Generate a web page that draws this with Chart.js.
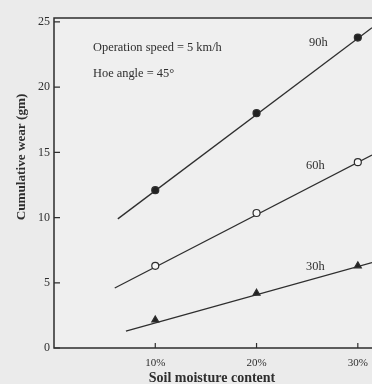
<!DOCTYPE html>
<html><head><meta charset="utf-8">
<script src="https://cdn.jsdelivr.net/npm/chart.js@4"></script>
<style>html,body{margin:0;padding:0;background:#ebebeb;}canvas{display:block;}</style>
</head><body>
<canvas id="c" width="372" height="384"></canvas>
<script>
// ---- data ----
const moisture = [10, 20, 30];            // soil moisture content (%)
const wear90h = [12.1, 18.0, 23.8];       // cumulative wear (gm) after 90 h
const wear60h = [6.3, 10.35, 14.25];      // after 60 h
const wear30h = [2.15, 4.2, 6.3];         // after 30 h
// fitted straight lines drawn through the points (x ends, y ends)
const fitX90h = [6.3, 31.4];  const fitY90h = [9.9, 24.55];
const fitX60h = [6.0, 31.4];  const fitY60h = [4.6, 14.8];
const fitX30h = [7.1, 31.4];  const fitY30h = [1.3, 6.55];
const xTickValues = [10, 20, 30];
const yTickValues = [0, 5, 10, 15, 20, 25];
const seriesNames = ['90h', '60h', '30h'];
const notes = ['Operation speed = 5 km/h', 'Hoe angle = 45\u00B0'];
const xTitle = 'Soil moisture content';
const yTitle = 'Cumulative wear (gm)';

const INK = '#2e2e2e';
const SERIF = '"Liberation Serif", "DejaVu Serif", serif';

const pts = (xs, ys) => xs.map((x, i) => ({x: x, y: ys[i]}));

const lineDs = (xs, ys) => ({
  type: 'line', data: pts(xs, ys), borderColor: INK, borderWidth: 1.3,
  pointRadius: 0, fill: false, tension: 0, order: 2, clip: false
});
const markDs = (ys, style, bg) => ({
  type: 'scatter', data: pts(moisture, ys), pointStyle: style,
  pointRadius: style === 'triangle' ? 4 : 3.5, pointBackgroundColor: bg,
  pointBorderColor: INK, pointBorderWidth: 1.2, showLine: false, order: 1, clip: false
});

const decor = {
  id: 'decor',
  beforeDraw(chart) {
    const c = chart.ctx;
    c.save();
    c.fillStyle = '#ebebeb';
    c.fillRect(0, 0, chart.width, chart.height);
    const a = chart.chartArea;
    c.fillStyle = '#efefef';
    c.fillRect(a.left, a.top, a.right - a.left, a.bottom - a.top);
    c.restore();
  },
  afterDraw(chart) {
    const c = chart.ctx, a = chart.chartArea;
    const xs = chart.scales.x, ys = chart.scales.y;
    c.save();
    c.strokeStyle = INK; c.lineWidth = 1.5;
    c.beginPath();
    c.moveTo(a.right, a.top); c.lineTo(a.left, a.top);
    c.lineTo(a.left, a.bottom); c.lineTo(a.right, a.bottom);
    c.stroke();
    c.lineWidth = 1.2;
    c.beginPath();
    yTickValues.forEach(v => { const p = ys.getPixelForValue(v); c.moveTo(a.left, p); c.lineTo(a.left + 6, p); });
    xTickValues.forEach(v => { const p = xs.getPixelForValue(v); c.moveTo(p, a.bottom); c.lineTo(p, a.bottom - 5); });
    c.stroke();
    // text annotations
    c.fillStyle = INK;
    c.font = '12.4px ' + SERIF;
    c.textBaseline = 'middle';
    c.textAlign = 'left';
    c.fillText(notes[0], xs.getPixelForValue(3.85), ys.getPixelForValue(23.0));
    c.fillText(notes[1], xs.getPixelForValue(3.85), ys.getPixelForValue(21.0));
    c.textAlign = 'center';
    c.fillText(seriesNames[0], xs.getPixelForValue(26.1), ys.getPixelForValue(23.4));
    c.fillText(seriesNames[1], xs.getPixelForValue(25.8), ys.getPixelForValue(14.0));
    c.fillText(seriesNames[2], xs.getPixelForValue(25.8), ys.getPixelForValue(6.2));
    // axis titles
    c.font = 'bold 14px ' + SERIF;
    c.fillText(xTitle, 212, 378);
    c.font = 'bold 13.2px ' + SERIF;
    c.translate(22, 157);
    c.rotate(-Math.PI / 2);
    c.fillText(yTitle, 0, 0);
    c.restore();
  }
};

new Chart(document.getElementById('c'), {
  type: 'scatter',
  data: {
    datasets: [
      lineDs(fitX90h, fitY90h), lineDs(fitX60h, fitY60h), lineDs(fitX30h, fitY30h),
      markDs(wear90h, 'circle', '#222222'),
      markDs(wear60h, 'circle', '#f7f7f7'),
      markDs(wear30h, 'triangle', '#222222')
    ]
  },
  options: {
    responsive: false, animation: false, devicePixelRatio: 1,
    layout: {autoPadding: false, padding: {top: 18, right: 0, left: 0, bottom: 0}},
    plugins: {legend: {display: false}, tooltip: {enabled: false}},
    scales: {
      x: {
        type: 'linear', min: 0, max: 31.4,
        afterBuildTicks: s => { s.ticks = xTickValues.map(v => ({value: v})); },
        afterFit: s => { s.height = 36; s.paddingLeft = 0; s.paddingRight = 0; },
        grid: {display: false, drawTicks: false}, border: {display: false},
        ticks: {padding: 9, color: INK, font: {family: SERIF, size: 11}, callback: v => v + '%', maxRotation: 0, autoSkip: false}
      },
      y: {
        type: 'linear', min: 0, max: 25.3,
        afterBuildTicks: s => { s.ticks = yTickValues.map(v => ({value: v})); },
        afterFit: s => { s.width = 54; s.paddingTop = 0; s.paddingBottom = 0; },
        grid: {display: false, drawTicks: false}, border: {display: false},
        ticks: {padding: 4, color: INK, font: {family: SERIF, size: 12}, autoSkip: false}
      }
    }
  },
  plugins: [decor]
});
</script>
</body></html>
